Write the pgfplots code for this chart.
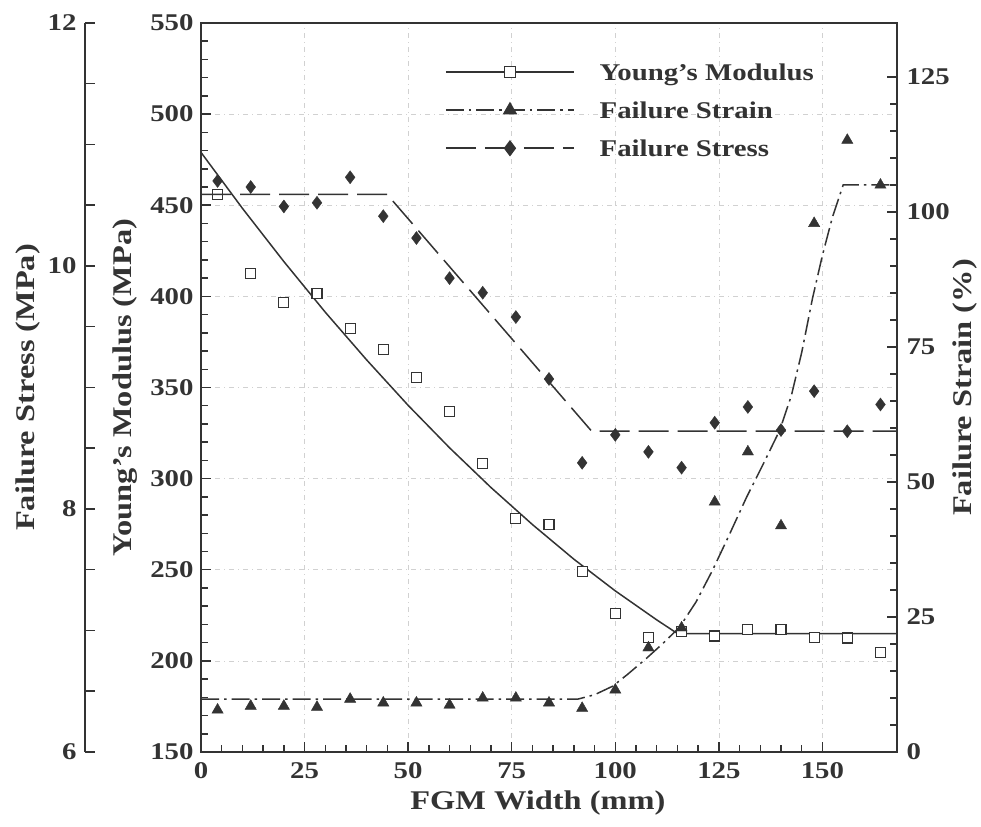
\documentclass[border=0pt]{standalone}
\usepackage{fontspec}
\setmainfont{Liberation Serif}[FakeStretch=1.2]
\newfontfamily\boldserif{Liberation Serif Bold}[FakeStretch=1.2]
\usepackage{pgfplots}
\pgfplotsset{compat=1.18}
\definecolor{ink}{gray}{0.2}
\definecolor{gridc}{gray}{0.82}
\newcommand{\lblfont}{\bfseries\fontsize{27}{27}\selectfont}
\newcommand{\tickfont}{\boldserif\fontsize{24}{24}\selectfont}
\pgfplotsset{
  base/.style={
    scale only axis, width=696pt, height=729pt,
    at={(0,0)}, anchor=south west,
    xmin=0, xmax=168,
    tick align=inside,
    major tick length=10pt, minor tick length=7pt,
    every tick/.append style={ink, line width=1.5pt},
    axis line style={-, ink, line width=2.2pt},
    /pgf/number format/assume math mode=true,
    tick label style={text=ink},
    xticklabel={\tickfont\pgfmathprintnumber{\tick}},
    yticklabel={\tickfont\pgfmathprintnumber{\tick}},
  },
}
\begin{document}
\begin{tikzpicture}
% ---------- Young's modulus (main axis) ----------
\begin{axis}[base,
  ymin=150, ymax=550,
  xtick={0,25,...,150}, minor x tick num=4,
  ytick={150,200,...,550}, minor y tick num=4,
  xtick pos=left, ytick pos=left,
  grid=major,
  major grid style={gridc, line width=0.6pt, dash pattern=on 5pt off 4pt on 1pt off 4pt},
  xlabel={FGM Width (mm)}, ylabel={Young’s Modulus (MPa)},
  every axis x label/.style={at={(axis description cs:0.484,0)}, yshift=-51pt, anchor=center, font=\lblfont, text=ink},
  every axis y label/.style={at={(axis description cs:0,0.5)}, xshift=-76pt, rotate=90, anchor=center, font=\lblfont, text=ink},
  xticklabel style={yshift=-7pt},
  yticklabel style={xshift=-4pt},
]
\addplot[ink, line width=1.5pt] coordinates {
 (0,479) (10,448.3) (20,419.1) (30,391.3) (40,365.1) (50,340.2) (60,316.9)
 (70,295.1) (80,274.8) (90,255.8) (100,238.4) (110,222.5) (115,215) (168,215)};
\addplot[only marks, mark=square*, mark size=5pt, mark options={fill=white, draw=ink, line width=1.2pt}] coordinates {
 (4,456) (12,412.5) (20,396.6) (28,401.5) (36,382.3) (44,370.8) (52,355.5)
 (60,336.8) (68,308.4) (76,278.2) (84,275) (92,249.2) (100,226.2) (108,213)
 (116,216) (124,213.6) (132,217.4) (140,217.4) (148,213) (156,212.5) (164,204.8)};
\end{axis}
% ---------- Failure strain (right axis) ----------
\begin{axis}[base,
  ymin=0, ymax=135,
  axis y line*=right, axis x line=none,
  ytick={0,25,...,125}, minor y tick num=4,
  yticklabel style={xshift=6pt},
  ylabel={Failure Strain (\%)},
  every axis y label/.style={at={(axis description cs:1,0.5)}, xshift=68pt, rotate=90, anchor=center, font=\lblfont, text=ink},
]
\addplot[ink, line width=1.5pt, dash pattern=on 18pt off 5pt on 2.5pt off 5pt] coordinates {
 (0,9.8) (91,9.8) (95,10.6) (99.4,12.2) (103,14.4) (107.6,17.4) (111.5,20.1)
 (115.5,23.1) (119.5,27.8) (123.5,33.7) (127.5,40.2) (131.7,47.2) (135.7,53.3)
 (139.7,59.6) (142.5,66) (145,74) (147.6,84) (150,92) (152.4,99) (155,105) (168,105)};
\addplot[only marks, mark=triangle*, mark size=6.5pt, mark options={fill=ink, draw=ink}] coordinates {
 (4,7.8) (12,8.5) (20,8.5) (28,8.3) (36,9.8) (44,9.1) (52,9.1) (60,8.7) (68,10.0)
 (76,10.0) (84,9.1) (92,8.1) (100,11.5) (108,19.3) (116,23.0) (124,46.3) (132,55.6)
 (140,41.9) (148,97.9) (156,113.3) (164,105.0)};
\end{axis}
% ---------- Failure stress (data + legend) ----------
\begin{axis}[base, hide axis,
  ymin=6, ymax=12,
  legend cell align=left,
  legend style={draw=none, fill=none, at={(axis description cs:0.3506,0.9588)}, anchor=north west,
    inner sep=0pt, row sep=0pt, /tikz/column sep=0pt,
    nodes={inner sep=7pt, text height=20pt, text depth=4pt, font=\bfseries\fontsize{24}{24}\selectfont, text=ink}},
  legend image code/.code={
    \draw[mark repeat=2, mark phase=2, #1] plot coordinates {(0pt,0pt) (64pt,0pt) (128pt,0pt)};
    \path (146pt,0pt);
  },
]
\addlegendimage{ink, line width=1.5pt, mark=square*, mark size=5.5pt, mark options={solid, fill=white, draw=ink, line width=1.2pt}}
\addlegendentry{Young’s Modulus}
\addlegendimage{ink, line width=1.5pt, dash pattern=on 18pt off 5pt on 2.5pt off 5pt, mark=triangle*, mark size=7pt, mark options={solid, fill=ink}}
\addlegendentry{Failure Strain}
\addlegendimage{ink, line width=1.5pt, dash pattern=on 30pt off 9pt, mark=diamond*, mark size=7pt, mark options={solid, fill=ink}}
\addlegendentry{Failure Stress}
\addplot[forget plot, ink, line width=1.5pt, dash pattern=on 30pt off 9pt] coordinates {
 (0,10.59) (44.9,10.59) (94.3,8.64) (168,8.64)};
\addplot[forget plot, only marks, mark=diamond*, mark size=6.5pt, mark options={fill=ink, draw=ink}] coordinates {
 (4,10.70) (12,10.65) (20,10.49) (28,10.52) (36,10.73) (44,10.41) (52,10.23) (60,9.90)
 (68,9.78) (76,9.58) (84,9.07) (92,8.38) (100,8.61) (108,8.47) (116,8.34) (124,8.71)
 (132,8.84) (140,8.65) (148,8.97) (156,8.64) (164,8.86)};
\end{axis}
% ---------- Failure stress scale (far left) ----------
\begin{axis}[
  scale only axis, width=1pt, height=729pt,
  at={(-116pt,0)}, anchor=south west,
  xmin=0, xmax=1, ymin=6, ymax=12,
  axis y line*=left, axis x line=none,
  ytick={6,8,10,12}, minor ytick={6.5,7,7.5,8.5,9,9.5,10.5,11,11.5},
  tick align=inside, major tick length=10pt, minor tick length=10pt,
  every tick/.append style={ink, line width=1.5pt},
  axis line style={-, ink, line width=2.2pt},
  /pgf/number format/assume math mode=true,
  tick label style={text=ink},
  yticklabel={\tickfont\pgfmathprintnumber{\tick}},
  yticklabel style={xshift=-5pt},
  ylabel={Failure Stress (MPa)},
  every axis y label/.style={at={(axis description cs:0,0.5)}, xshift=-57pt, rotate=90, anchor=center, font=\lblfont, text=ink},
]
\addplot[draw=none, forget plot] coordinates {(0.5,9)};
\end{axis}
\pgfresetboundingbox
\useasboundingbox (-201pt,-74pt) rectangle (780pt,752pt);
\end{tikzpicture}
\end{document}
